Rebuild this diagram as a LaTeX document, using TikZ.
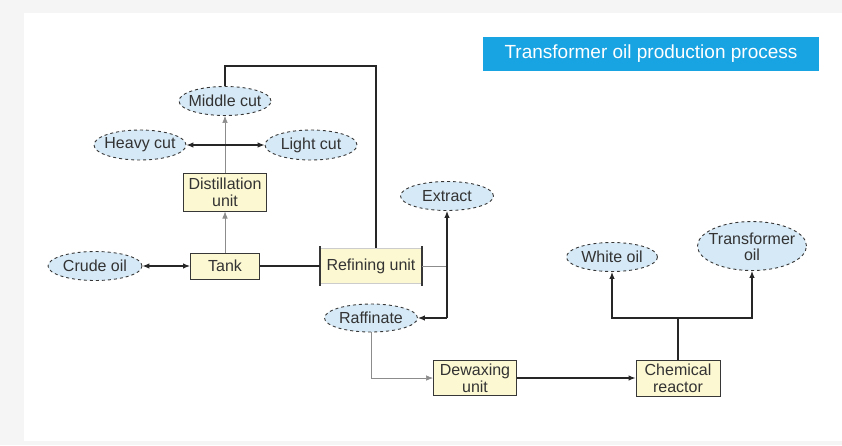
\documentclass[tikz,border=0pt]{standalone}
\usepackage{fontspec}
\setmainfont{Liberation Sans}
\usetikzlibrary{shapes.geometric,arrows.meta}
\definecolor{oilblue}{RGB}{214,233,246}
\definecolor{unityellow}{RGB}{252,248,210}
\definecolor{titleblue}{RGB}{24,163,226}
\definecolor{edge}{RGB}{55,55,55}
\newcommand{\oiltext}[1]{\makebox[0pt]{#1}}

\begin{document}
\begin{tikzpicture}[x=1pt,y=-1pt,>={Latex[length=7pt,width=5.5pt]}]
        \tikzstyle{oil}=[draw=edge,dashed,line width=0.9pt,shape=ellipse,fill=oilblue,inner sep=0pt,minimum width=92pt,minimum height=29pt,font=\fontsize{16}{17}\selectfont,text=black!80]
        \tikzstyle{unit}=[draw=edge,line width=1pt,fill=unityellow,inner sep=0pt,align=center,font=\fontsize{16}{17}\selectfont,text=black!80]
        \tikzstyle{pipe}=[line width=1.1pt,color=black!85]
        \tikzstyle{feed}=[line width=0.6pt,color=black!45]

            % page frame
            \fill[black!4] (0,0) rectangle (842,445);
            \fill[white] (24,13) rectangle (842,441);
            \useasboundingbox (0,0) rectangle (842,445);

            \node[fill=titleblue,text=white,minimum width=336pt,minimum height=34pt,inner sep=0pt,font=\fontsize{19}{21}\selectfont] (title) at (651,54) {Transformer oil production process};

            \node[oil] (mid) at (225,101) {\oiltext{Middle cut}};
            \node[oil,minimum height=30pt] (heavy) at (140,145) {\oiltext{Heavy cut}};
            \node[oil,minimum height=30pt] (light) at (311,145) {\oiltext{Light cut}};
            \node[unit,minimum width=83pt,minimum height=38pt] (dist) at (225,192) {Distillation\\unit};
            \node[oil,minimum width=94pt] (crude) at (95,266) {\oiltext{Crude oil}};
            \node[unit,minimum width=69pt,minimum height=26pt] (tank) at (225,266) {Tank};
            \node[unit,draw=black!20,minimum width=101pt,minimum height=35pt] (ref) at (371,266) {Refining unit};
            \node[oil,minimum width=93pt] (extract) at (447,196) {\oiltext{Extract}};
            \node[oil,minimum width=93pt,minimum height=28pt] (raff) at (371,318) {\oiltext{Raffinate}};
            \node[unit,minimum width=83pt,minimum height=35pt] (dewax) at (475,378) {Dewaxing\\unit};
            \node[unit,minimum width=84pt,minimum height=36pt] (chem) at (678,378) {Chemical\\reactor};
            \node[oil,minimum width=91pt] (white) at (612,257) {\oiltext{White oil}};
            \node[oil,minimum width=109pt,minimum height=49pt] (trans) at (752,246) {\oiltext{\smash{\raisebox{-7pt}{\begin{tabular}{@{}c@{}}Transformer\\[-1pt]oil\end{tabular}}}}};

            \coordinate (top) at (376,66);
            \coordinate (fork) at (447,266);
            \coordinate (low) at (447,318);
            \coordinate (split) at (678,318);

            % sides of the refining unit
            \draw[line width=1.5pt,edge] ([yshift=2pt]ref.north west) -- ([yshift=-2pt]ref.south west)
            ([yshift=2pt]ref.north east) -- ([yshift=-2pt]ref.south east);

            \draw[feed,->] (tank) -- (dist);
            \draw[feed,->] (dist) -- (mid);
            \draw[feed] (ref.east) -- (fork);
            \draw[feed,->] (raff.south) |- (dewax.west);

            \draw[pipe,<->] (crude) -- (tank);
            \draw[pipe,<->] (heavy) -- (light);
            \draw[pipe] (tank) -- (ref)
            (mid.north) |- (top) -- (top |- ref.north)
            (chem.north) -- (split)
            ;
            \draw[pipe,->] (low) -- (extract.south);
            \draw[pipe,->] (low) -- (raff.east);
            \draw[pipe,->] (dewax) -- (chem);
            \draw[pipe,->] (split) -| (white.south);
            \draw[pipe,->] (split) -| (trans.south);
        \end{tikzpicture}
\end{document}
